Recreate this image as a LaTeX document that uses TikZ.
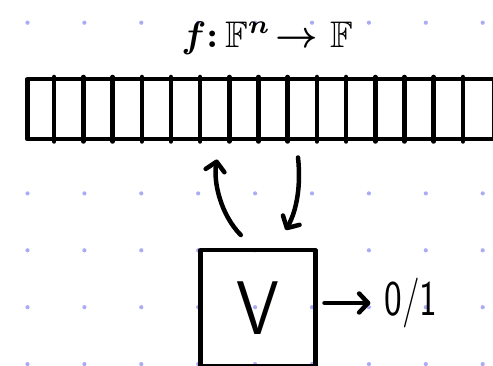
\documentclass[tikz,border=0pt]{standalone}
\usepackage{amssymb}
\usetikzlibrary{arrows.meta,calc}
\definecolor{dotc}{RGB}{172,172,245}
\tikzset{
  ink/.style={line width=4.5pt, line cap=round, line join=round, draw=black},
  harrow/.style={ink, -{Straight Barb[length=9pt,width=19pt,line width=4.5pt,round]}},
  gdot/.style={fill=dotc, draw=none},
}
\begin{document}
\begin{tikzpicture}[x=1pt,y=-1pt]
\useasboundingbox (0,0) rectangle (493,366);
\fill[white] (0,0) rectangle (493,366);
% dot grid
\foreach \i in {0,...,8}{
  \foreach \j in {0,...,6}{
    \fill[gdot] ({27.5+56.9*\i},{22.7+56.9*\j}) circle (2.1pt);
  }
}
% bar of cells
\node[ink, fill=white, rectangle, minimum width=467pt, minimum height=60pt, inner sep=0pt, anchor=north west] (bar) at (25,77) {};
\foreach \k in {1,...,15}{
  \draw[ink] ($(bar.north west)+({\k*467/16},0)$) -- ($(bar.south west)+({\k*467/16},0)$);
}
% title
\node[inner sep=0pt] (title) at (267,38) {\scalebox{3.7}{\boldmath$f\colon\mathbb{F}^{n}\!\to\mathbb{F}$}};
% verifier box
\node[ink, rectangle, minimum width=115pt, minimum height=116pt, inner sep=0pt, anchor=north west] (V) at (198,248) {};
\node[inner sep=0pt] (Vl) at (V.center) {\fontsize{76}{80}\selectfont\sffamily\scalebox{0.9}[1]{V}};
% arrows between bar and box
\coordinate (a1s) at ([xshift=-17pt,yshift=13pt]V.north);
\coordinate (a1e) at ([xshift=192pt,yshift=-18pt]bar.south west);
\coordinate (a2s) at ([xshift=273pt,yshift=-16pt]bar.south west);
\coordinate (a2e) at ([xshift=28pt,yshift=18pt]V.north);
\draw[harrow] (a1s) .. controls (221,215) and (213,182) .. (a1e);
\draw[harrow] (a2s) .. controls (301,185) and (297,210) .. (a2e);
% output
\node[inner sep=0pt] (out) at (411,303) {\fontsize{50}{52}\selectfont\sffamily\scalebox{0.75}[1]{0/1}};
\coordinate (os) at ([xshift=7pt]V.east |- out.west);
\coordinate (oe) at ([xshift=-14pt]out.west);
\draw[harrow] (os) -- (oe);
\end{tikzpicture}
\end{document}
